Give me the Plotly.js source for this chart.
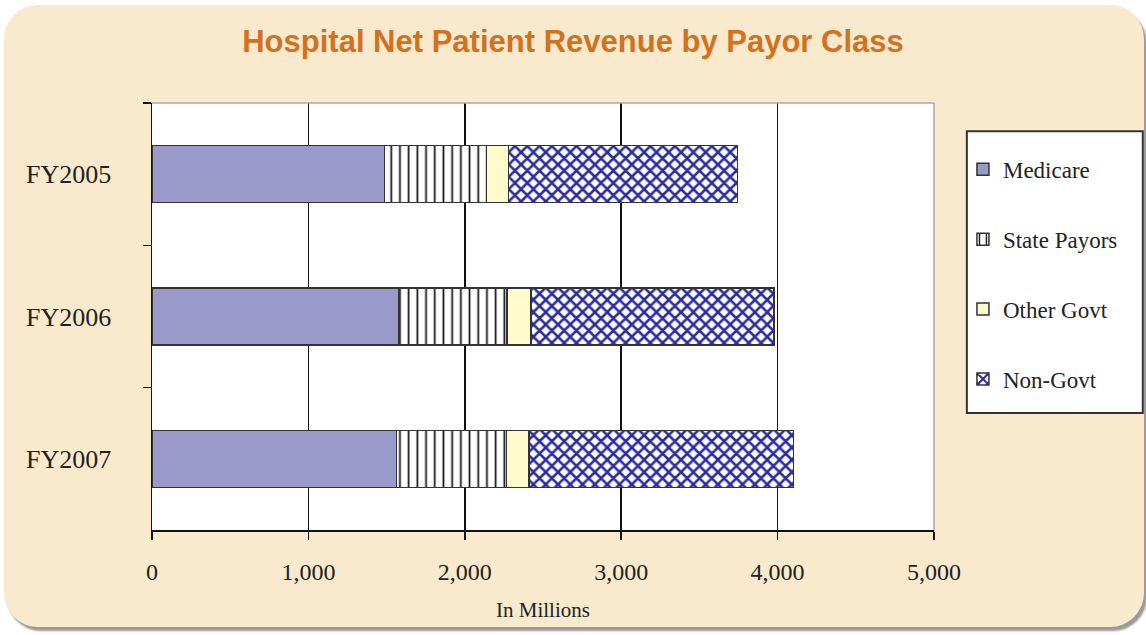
<!DOCTYPE html>
<html>
<head>
<meta charset="utf-8">
<script src="https://cdn.plot.ly/plotly-3.0.1.min.js"></script>
<style>
  html, body { margin: 0; padding: 0; background: #ffffff; }
  #frame { position: absolute; left: 4px; top: 5px; width: 1140px; height: 622px;
           background: #f9eacd; border-radius: 34px; box-shadow: 3px 4px 2px #9a9a9a; }
  #chart { position: absolute; left: 0; top: 0; width: 1146px; height: 635px; }
</style>
</head>
<body>
<div id="frame"></div>
<div id="chart"></div>
<script>
const years = ["FY2005", "FY2006", "FY2007"];
const medicare = [1485, 1578, 1564];
const statePayors = [655, 692, 704];
const otherGovt = [140, 154, 143];
const nonGovt = [1465, 1553, 1690];
const xTicks = [0, 1000, 2000, 3000, 4000, 5000];
const xTickLabels = ["0", "1,000", "2,000", "3,000", "4,000", "5,000"];

const serif = "Liberation Serif, DejaVu Serif, serif";
const edge = { color: "#333333", width: 1.5 };

function barTrace(name, vals, marker, grp) {
  return {
    type: "bar", orientation: "h", name: name, y: years, x: vals,
    width: 0.4, marker: Object.assign({ line: edge }, marker),
    legendgroup: grp, hoverinfo: "x+name"
  };
}

const data = [
  barTrace("Medicare", medicare, { color: "#9a99ca" }, "g1"),
  barTrace("State Payors", statePayors, { color: "#ffffff",
    pattern: { shape: "|", fgcolor: "#111111", bgcolor: "#ffffff", size: 8.7, solidity: 0.2 } }, "g2"),
  barTrace("Other Govt", otherGovt, { color: "#fdfacb" }, "g3"),
  barTrace("Non-Govt", nonGovt, { color: "#ffffff",
    pattern: { shape: "x", fgcolor: "#2b2ca0", bgcolor: "#ffffff", size: 8.7, solidity: 0.5 } }, "g4")
];

const layout = {
  width: 1146, height: 635,
  margin: { l: 152, r: 212, t: 103, b: 105 },
  paper_bgcolor: "rgba(0,0,0,0)",
  plot_bgcolor: "#ffffff",
  barmode: "stack",
  showlegend: true,
  title: { text: "Hospital Net Patient Revenue by Payor Class",
    font: { family: "Liberation Sans, Arial, sans-serif", size: 31, color: "#d4711d", weight: "bold" },
    x: 0.5, xanchor: "center", xref: "container", y: 0.935, yref: "container", yanchor: "middle" },
  xaxis: {
    range: [0, 5000], tickvals: xTicks, ticktext: xTickLabels,
    showgrid: true, gridcolor: "#111111", gridwidth: 1.5,
    showline: true, linecolor: "#111111", linewidth: 1.5,
    ticks: "outside", ticklen: 8, tickcolor: "#111111", tickwidth: 1.5,
    ticklabelstandoff: 12,
    tickfont: { family: serif, size: 24, color: "#222222" },
    zeroline: false,
    title: { text: "In Millions", font: { family: serif, size: 21, color: "#222222" }, standoff: 18 }
  },
  yaxis: {
    type: "category", categoryorder: "array", categoryarray: years, autorange: "reversed",
    showline: true, linecolor: "#111111", linewidth: 1.5,
    ticks: "outside", tickson: "boundaries", ticklen: 8, tickcolor: "#111111", tickwidth: 1.5,
    ticklabelstandoff: 34,
    tickfont: { family: serif, size: 26, color: "#222222" },
    showgrid: false
  },
  legend: {
    x: 1.037, xanchor: "left", y: 0.895, yanchor: "top",
    bgcolor: "rgba(0,0,0,0)", borderwidth: 0,
    font: { family: serif, size: 23, color: "#222222" },
    traceorder: "grouped", tracegroupgap: 37
  },
  shapes: [
    { type: "rect", xref: "paper", yref: "paper", x0: 1.042, x1: 1.267, y0: 0.274, y1: 0.934,
      fillcolor: "#ffffff", line: { color: "#333333", width: 2 }, layer: "below" },
    { type: "line", xref: "paper", yref: "paper", x0: 0, x1: 1, y0: 1, y1: 1,
      line: { color: "#a8a8a8", width: 1.5 } },
    { type: "line", xref: "paper", yref: "paper", x0: 1, x1: 1, y0: 0, y1: 1,
      line: { color: "#a8a8a8", width: 1.5 } }
  ]
};

Plotly.newPlot("chart", data, layout, { displayModeBar: false, staticPlot: true });
</script>
</body>
</html>
